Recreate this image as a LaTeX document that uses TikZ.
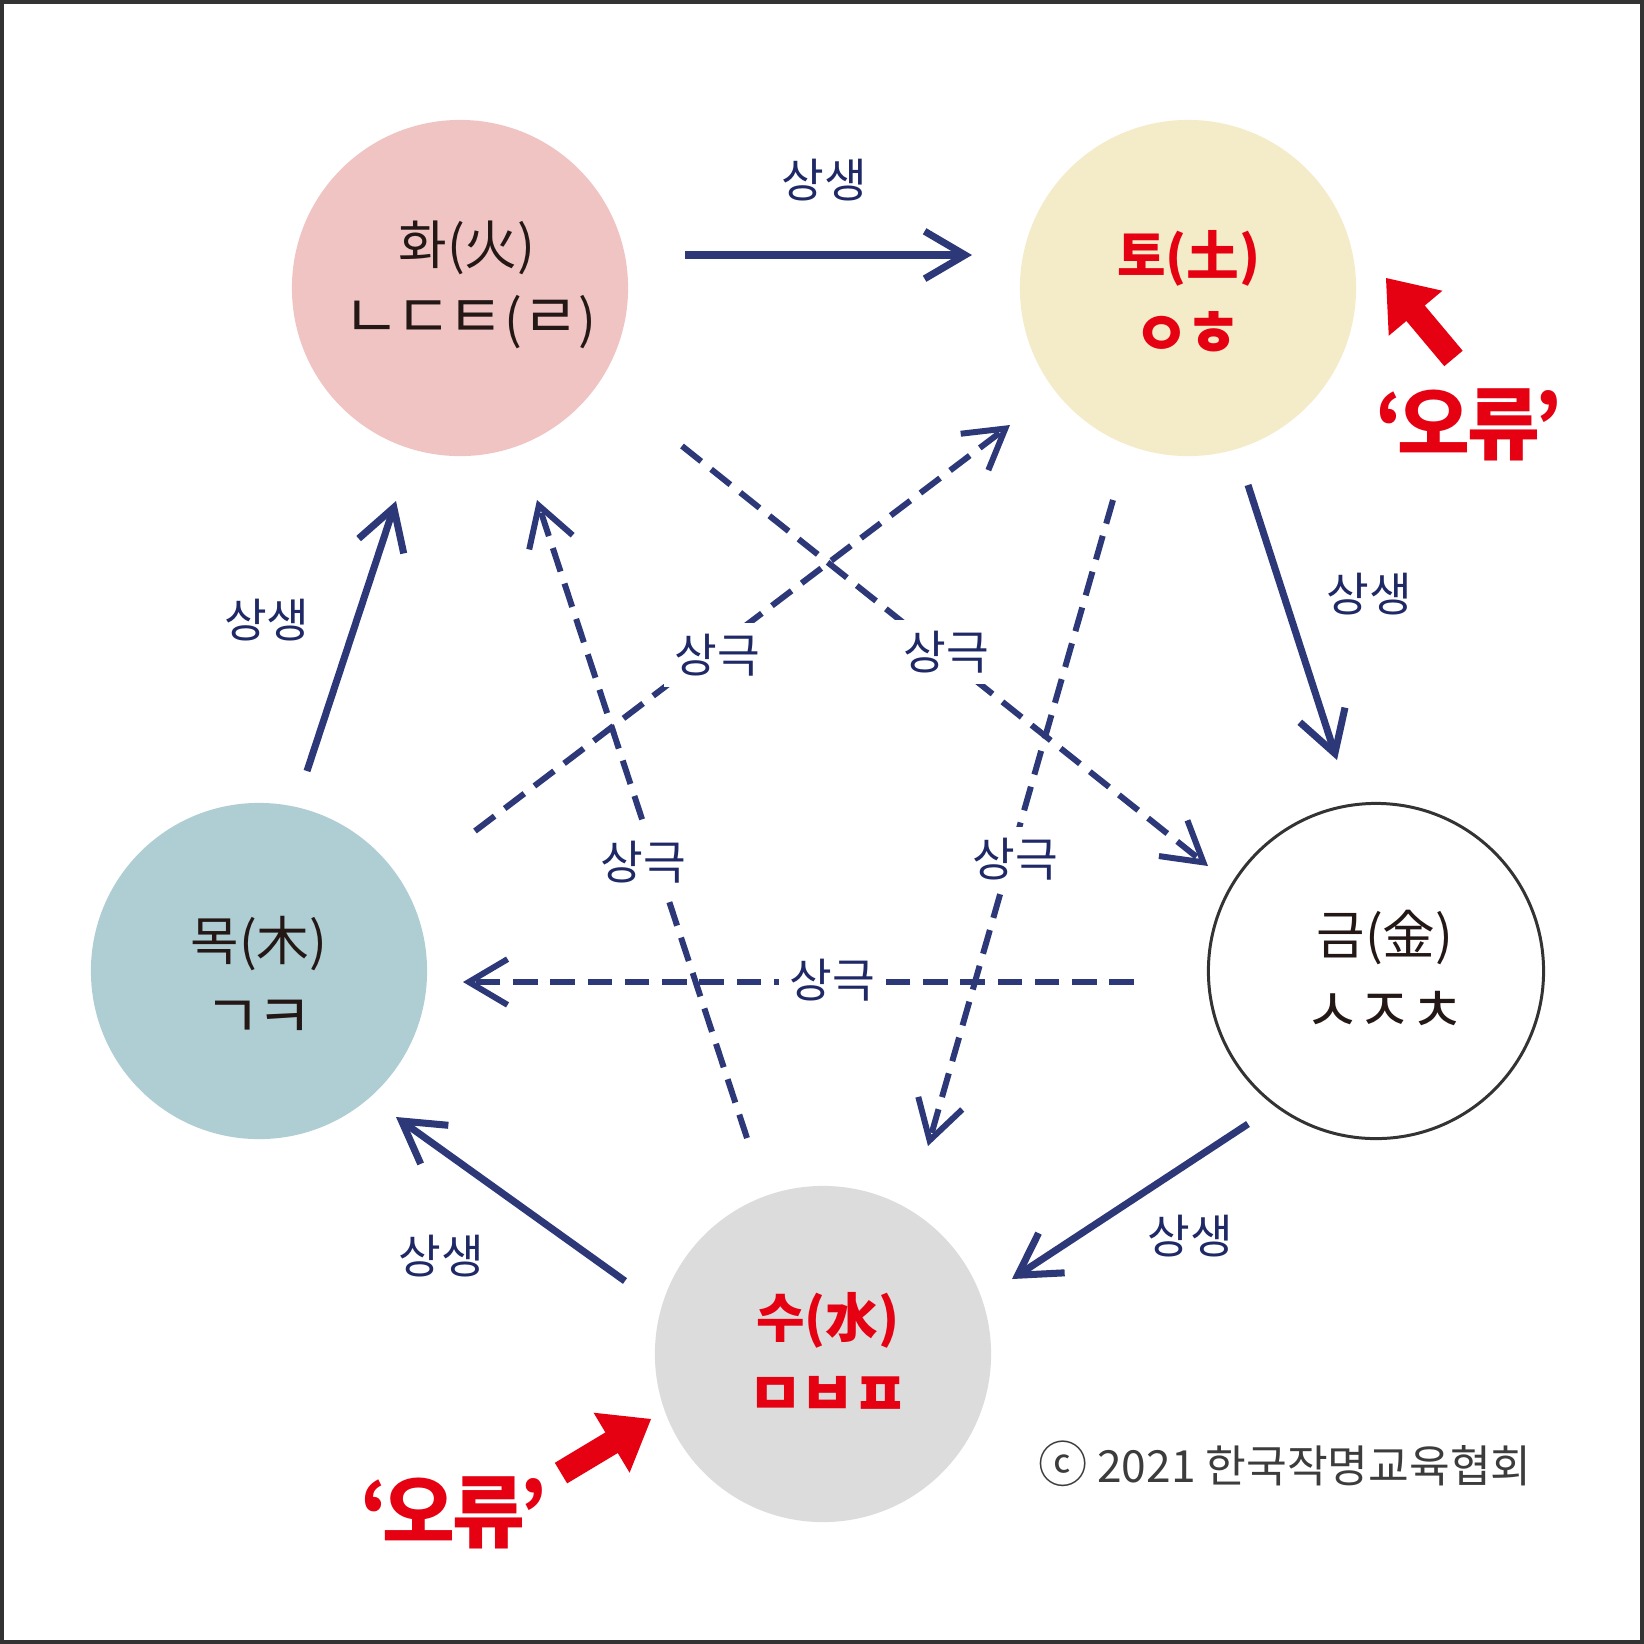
\documentclass[tikz,border=0pt]{standalone}
\usepackage{fontspec}
\setmainfont{Noto Sans CJK KR}
\usetikzlibrary{arrows.meta}
\definecolor{navy}{HTML}{2C3878}
\definecolor{navytext}{HTML}{1F2966}
\definecolor{krred}{HTML}{E50012}
\definecolor{ink}{HTML}{231815}
\definecolor{firefill}{HTML}{F1C4C4}
\definecolor{earthfill}{HTML}{F4ECC9}
\definecolor{woodfill}{HTML}{AFCED3}
\definecolor{waterfill}{HTML}{DCDCDC}
\definecolor{framegray}{HTML}{333333}
\definecolor{copygray}{HTML}{3C3C3C}
\newcommand\jamosz{\fontsize{17.5}{20}\selectfont}
\newcommand\jk{\kern-.07em}
\begin{document}
\begin{tikzpicture}[x=0.01cm,y=-0.01cm,
  elem/.style={circle, minimum size=3.36cm, inner sep=0pt},
  ename/.style={font=\fontsize{15}{18}\selectfont, text=ink, inner sep=0pt},
  rname/.style={font=\fontsize{15}{18}\selectfont\bfseries, text=krred, inner sep=0pt},
  gen/.style={draw=navy, line width=2pt, -{Straight Barb[length=11.5pt,width=13.5pt]}},
  ctl/.style={draw=navy, line width=1.7pt, dash pattern=on 7pt off 3.6pt, -{Straight Barb[length=11pt,width=13pt]}},
  glab/.style={font=\fontsize{13.2}{15}\selectfont, text=navytext, inner sep=0pt},
  klab/.style={font=\fontsize{13.2}{15}\selectfont, text=navytext, fill=white, inner sep=3pt},
  oryu/.style={font=\fontsize{22.5}{26}\selectfont\bfseries, text=krred, inner sep=0pt},
  redarrow/.style={fill=krred},
]
\useasboundingbox (0,0) rectangle (1644,1644);
\fill[white] (0,0) rectangle (1644,1644);
\draw[framegray, line width=1.14pt] (2,2) rectangle (1642,1642);

% element circles
\node[elem, fill=firefill] (fire) at (460,288) {};
\node[elem, fill=earthfill] (earth) at (1188,288) {};
\node[elem, fill=woodfill] (wood) at (259,971) {};
\node[elem, draw=framegray, line width=0.85pt, fill=white, minimum size=3.35cm] (metal) at (1376,971) {};
\node[elem, fill=waterfill] (water) at (823,1354) {};

% element texts
\node[ename] (fireA) at (467,248) {화(火)};
\node[ename] (fireB) at (470,322) {{\jamosz ㄴ\jk ㄷ\jk ㅌ}({\jamosz ㄹ})};
\node[rname] (earthA) at (1189,258) {토(土)};
\node[rname] (earthB) at (1188,334) {{\jamosz ㅇ\jk ㅎ}};
\node[ename] (woodA) at (259,944) {목(木)};
\node[ename] (woodB) at (259,1019) {{\jamosz ㄱ\jk ㅋ}};
\node[ename] (metalA) at (1385,937) {금(金)};
\node[ename] (metalB) at (1385,1012) {{\jamosz ㅅ\jk ㅈ\jk ㅊ}};
\node[rname] (waterA) at (828,1320) {수(水)};
\node[rname] (waterB) at (828,1396) {{\jamosz ㅁ\jk ㅂ\jk ㅍ}};

% generating cycle (solid)
\coordinate (g1s) at (685,255);  \coordinate (g1e) at (972,255);
\coordinate (g2s) at (1248,485); \coordinate (g2e) at (1337,760);
\coordinate (g3s) at (1248,1124); \coordinate (g3e) at (1012,1279);
\coordinate (g4s) at (625,1281); \coordinate (g4e) at (396,1117);
\coordinate (g5s) at (307,771);  \coordinate (g5e) at (396,501);
\draw[gen] (g1s) -- (g1e);
\draw[gen] (g2s) -- (g2e);
\draw[gen] (g3s) -- (g3e);
\draw[gen] (g4s) -- (g4e);
\draw[gen] (g5s) -- (g5e);

% controlling cycle (dashed)
\coordinate (k1s) at (682,446);  \coordinate (k1e) at (1208,866);
\coordinate (k2s) at (475,831);  \coordinate (k2e) at (1010,425);
\coordinate (k3s) at (747,1138); \coordinate (k3e) at (537,500);
\coordinate (k4s) at (1113,500); \coordinate (k4e) at (928,1146);
\coordinate (k5s) at (1134,982); \coordinate (k5e) at (463,982);
\draw[ctl] (k1s) -- (k1e);
\draw[ctl] (k2s) -- (k2e);
\draw[ctl] (k3s) -- (k3e);
\draw[ctl] (k4s) -- (k4e);
\draw[ctl] (k5s) -- (k5e);

% labels
\node[glab] (l1) at (824,180) {상생};
\node[glab] (l2) at (1369,594) {상생};
\node[glab] (l3) at (1190,1236) {상생};
\node[glab] (l4) at (441,1256) {상생};
\node[glab] (l5) at (267,620) {상생};
\node[klab] (m1) at (946,652) {상극};
\node[klab] (m2) at (717,655) {상극};
\node[klab] (m3) at (643,862) {상극};
\node[klab] (m4) at (1015,859) {상극};
\node[klab] (m5) at (832,980) {상극};

% error markers
\begin{scope}[shift={(1386,278)}, rotate=130]
  \fill[redarrow] (0,0) -- (-46,35) -- (-46,12) -- (-105,12) -- (-105,-12) -- (-46,-12) -- (-46,-35) -- cycle;
\end{scope}
\begin{scope}[shift={(651,1419)}, rotate=31]
  \fill[redarrow] (0,0) -- (-46,35) -- (-46,12) -- (-105,12) -- (-105,-12) -- (-46,-12) -- (-46,-35) -- cycle;
\end{scope}
\node[oryu] (err1) at (1469,425) {‘\kern-.08em 오\kern-.03em 류\kern-.08em’};
\node[oryu] (err2) at (454,1513) {‘\kern-.08em 오\kern-.03em 류\kern-.08em’};

% copyright
\node[font=\fontsize{12.6}{15}\selectfont, text=copygray, inner sep=0pt] (copy) at (1285,1464) {{\fontsize{14}{15}\selectfont ⓒ} 2021 한국작명교육협회};
\end{tikzpicture}
\end{document}
